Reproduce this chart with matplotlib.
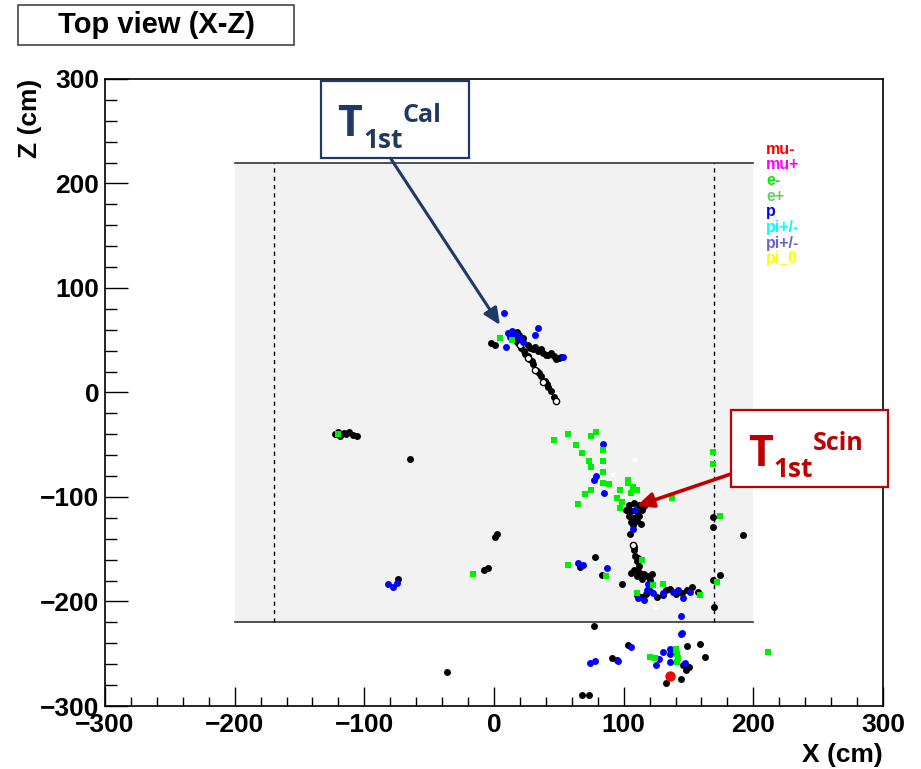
import matplotlib
matplotlib.use("Agg")
import matplotlib.pyplot as plt
from matplotlib.patches import Rectangle

W, H = 921, 769

# ---------------- data (cm) ----------------
black_x = [13, 16, 19, 22, 1, -2, 15, 18,
           26, 30, 34, 38, 42, 46, 50, 36, 44, 28, 32, 40, 48, 52,
           18, 21, 24, 27, 30, 33, 36, 39, 42, 44, 46, 19, 23, 26, 29, 35, 41,
           -123, -120, -116, -112, -109, -106, -119, -114,
           -65, -74, 1, 2, -5, -8, -36,
           104, 108, 112, 106, 110, 114, 104, 108, 112, 106, 110, 102, 116, 107, 113,
           105, 107, 108, 109, 110, 112, 108, 111,
           108, 112, 116, 110, 114, 118, 120, 106, 122,
           110, 114, 126, 133, 149, 157, 153, 120, 140, 117, 130, 145, 136,
           66, 83, 99, 78,
           169, 169, 192, 174, 169, 170, 77,
           103, 149, 159, 91, 95, 146, 148, 150, 163, 133, 144, 68, 73]
black_z = [55, 57, 55, 52, 45, 47, 52, 58,
           45, 42, 40, 38, 36, 35, 33, 42, 38, 43, 44, 36, 32, 34,
           48, 43, 37, 32, 27, 21, 16, 11, 5, 1, -4, 46, 40, 35, 30, 19, 8,
           -40, -38, -39, -38, -41, -42, -42, -40,
           -64, -178, -138, -135, -168, -170, -267,
           -108, -106, -108, -113, -114, -112, -118, -120, -118, -124, -123, -112, -109, -127, -126,
           -135, -146, -151, -156, -161, -166, -148, -158,
           -170, -172, -174, -176, -178, -176, -179, -173, -174,
           -194, -196, -196, -189, -189, -191, -186, -190, -193, -193, -194, -192, -188,
           -167, -175, -183, -157,
           -119, -129, -136, -175, -179, -205, -223,
           -242, -243, -241, -254, -256, -261, -266, -263, -253, -278, -274, -289, -289]

open_x = [20, 26, 32, 38, 48, 107]
open_z = [45, 33, 22, 10, -8, -146]

blue_x = [8, 11, 14, 17, 12, 20, 9, 34, 32, 53, 22,
          -82, -78, -75,
          84, 77, 79, 85, 109, 107,
          111, 118, 123, 130, 138, 142, 146, 151, 116, 119,
          65, 69, 87,
          144, 145, 144,
          106, 74, 78, 96, 127, 130, 125, 136, 136, 136, 147]
blue_z = [76, 57, 59, 56, 53, 52, 44, 62, 55, 34, 48,
          -183, -186, -182,
          -49, -84, -80, -96, -112, -131,
          -197, -189, -192, -192, -191, -189, -197, -191, -199, -183,
          -163, -165, -168,
          -214, -230, -231,
          -244, -259, -257, -257, -255, -248, -261, -245, -250, -258, -259]

green_x = [5, 14, -120, -16,
           46, 57, 75, 79, 63, 68, 73, 75, 84, 84, 84, 84, 75, 70, 65, 89,
           103, 107, 97, 106, 95, 99, 97, 103, 110, 137,
           110, 123, 130, 159, 114,
           57, 86,
           169, 169, 174, 172,
           120, 124, 140, 141, 142, 141, 211]
green_z = [52, 50, -40, -174,
           -45, -40, -42, -38, -50, -58, -66, -71, -55, -66, -76, -87, -93, -97, -107, -88,
           -84, -90, -93, -96, -101, -105, -111, -87, -93, -101,
           -192, -184, -183, -194, -160,
           -165, -176,
           -57, -68, -118, -181,
           -253, -254, -245, -250, -254, -258, -248]

white_x = [28, 109, 92, 125]
white_z = [62, -65, -79, -205]

red_x = [136]
red_z = [-271]

legend_labels = ["mu-", "mu+", "e-", "e+", "p", "pi+/-", "pi+/-", "pi_0"]
legend_colors = ["#ff0000", "#ff00ff", "#00ee00", "#66cc66", "#0000ff",
                 "#00ffff", "#6666cc", "#ffff00"]

x_ticks = [-300, -200, -100, 0, 100, 200, 300]
z_ticks = [-300, -200, -100, 0, 100, 200, 300]

# ---------------- figure ----------------
plt.rcParams['font.family'] = ['Liberation Sans', 'DejaVu Sans']
fig = plt.figure(figsize=(W / 100, H / 100), dpi=100)
ax = fig.add_axes([105 / W, 1 - 706 / H, (883 - 105) / W, (706 - 79) / H])
ax.set_xlim(-300, 300)
ax.set_ylim(-300, 300)

# detector region
ax.add_patch(Rectangle((-200, -220), 400, 440, facecolor="#f2f2f2",
                       edgecolor="none", zorder=0))
ax.plot([-200, 200], [220, 220], color="#333333", lw=1.2, zorder=1)
ax.plot([-200, 200], [-220, -220], color="#333333", lw=1.2, zorder=1)
for xv in (-170, 170):
    ax.plot([xv, xv], [-220, 220], color="black", lw=1, ls=(0, (3, 3)), zorder=1)

ms = 5
ax.plot(black_x, black_z, 'o', color="black", ms=ms, mew=0, zorder=3)
ax.plot(open_x, open_z, 'o', mfc="white", mec="black", ms=ms - 0.5, mew=1.0, zorder=4)
ax.plot(blue_x, blue_z, 'o', color="#0000ff", ms=ms, mew=0, zorder=4)
ax.plot(green_x, green_z, 's', color="#00ee00", ms=ms - 0.8, mew=0, zorder=4)
ax.plot(white_x, white_z, 's', color="white", ms=ms - 1.5, mew=0, zorder=5)
ax.plot(red_x, red_z, 'o', color="#ff0000", ms=7.5, mew=0, zorder=5)

# legend text
for i, (lab, col) in enumerate(zip(legend_labels, legend_colors)):
    ax.text(210, 233 - i * 15, lab, color=col, fontsize=11.5, fontweight="bold",
            va="center", ha="left")

# ticks
ax.set_xticks(x_ticks)
ax.set_yticks(z_ticks)
ax.set_xticks(range(-300, 301, 20), minor=True)
ax.set_yticks(range(-300, 301, 20), minor=True)
ax.tick_params(axis='x', which='major', direction='in', length=13.7, width=1,
               labelsize=19, pad=5)
ax.tick_params(axis='x', which='minor', direction='in', length=6.8, width=1)
ax.tick_params(axis='y', which='major', direction='in', length=16.6, width=1,
               labelsize=19, pad=4)
ax.tick_params(axis='y', which='minor', direction='in', length=8.3, width=1)
for lab in ax.get_xticklabels() + ax.get_yticklabels():
    lab.set_fontweight("bold")
for sp in ax.spines.values():
    sp.set_linewidth(1.2)

fig.text(883 / W, 1 - 767 / H, "X (cm)", ha="right", va="bottom",
         fontsize=19, fontweight="bold")
fig.text(30 / W, 1 - 79 / H, "Z (cm)", ha="center", va="top", rotation=90,
         fontsize=19, fontweight="bold")

# title box
fig.patches.append(Rectangle((18 / W, 1 - 45 / H), 276 / W, 40 / H,
                             transform=fig.transFigure, facecolor="white",
                             edgecolor="#444444", lw=1.2))
fig.text(156 / W, 1 - 25 / H, "Top view (X-Z)", ha="center", va="center",
         fontsize=21, fontweight="bold")

# annotation boxes
def px(x, y):
    return (x / W, 1 - y / H)

navy = "#1f3864"
dred = "#c00000"
afont = ['Open Sans', 'DejaVu Sans']

fig.patches.append(Rectangle(px(321, 158), 148 / W, 77 / H,
                             transform=fig.transFigure, facecolor="white",
                             edgecolor=navy, lw=1.6, zorder=10))
fig.text(*px(337, 136), "T", color=navy, fontsize=31, fontweight="bold",
         family=afont, va="baseline", zorder=11)
fig.text(*px(363, 148), "1st", color=navy, fontsize=19, fontweight="bold",
         family=afont, va="baseline", zorder=11)
fig.text(*px(403, 122), "Cal", color=navy, fontsize=18, fontweight="bold",
         family=afont, va="baseline", zorder=11)

fig.patches.append(Rectangle(px(731, 487), 157 / W, 77 / H,
                             transform=fig.transFigure, facecolor="white",
                             edgecolor=dred, lw=1.6, zorder=10))
fig.text(*px(748, 466), "T", color=dred, fontsize=31, fontweight="bold",
         family=afont, va="baseline", zorder=11)
fig.text(*px(773, 477), "1st", color=dred, fontsize=19, fontweight="bold",
         family=afont, va="baseline", zorder=11)
fig.text(*px(813, 450), "Scin", color=dred, fontsize=18, fontweight="bold",
         family=afont, va="baseline", zorder=11)

ax.annotate("", xy=(4.6, 64.6), xycoords="data",
            xytext=px(391, 159), textcoords="figure fraction",
            arrowprops=dict(arrowstyle="-|>,head_length=1.0,head_width=0.45",
                            color=navy, lw=2.2, shrinkA=0, shrinkB=0),
            zorder=12, annotation_clip=False)
ax.annotate("", xy=(110, -108.6), xycoords="data",
            xytext=px(731, 474), textcoords="figure fraction",
            arrowprops=dict(arrowstyle="-|>,head_length=1.0,head_width=0.45",
                            color=dred, lw=2.6, shrinkA=0, shrinkB=0),
            zorder=12, annotation_clip=False)

fig.savefig("out.png", dpi=100)
